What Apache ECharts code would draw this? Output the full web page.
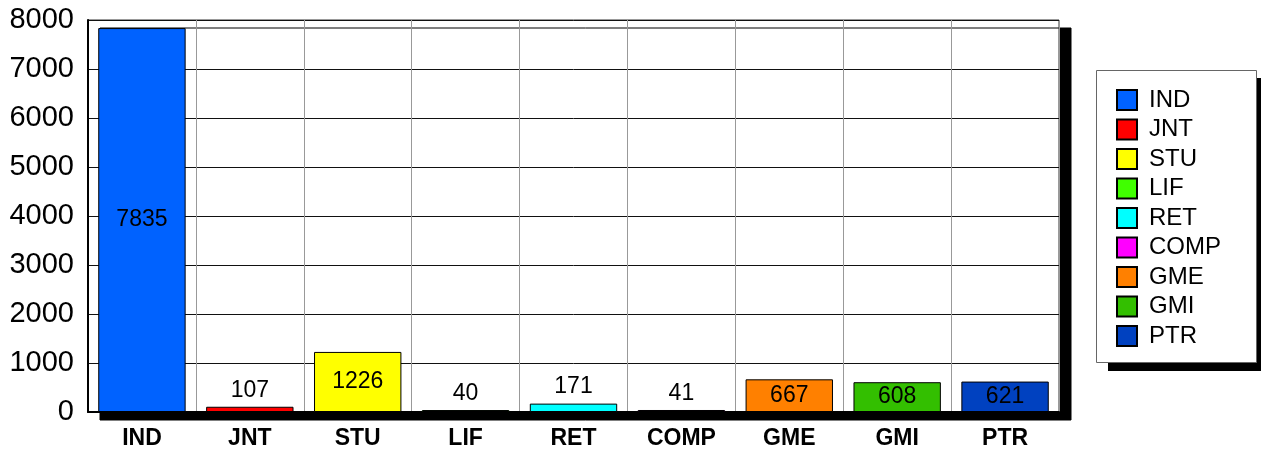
<!DOCTYPE html>
<html>
<head>
<meta charset="utf-8">
<title>Bar chart</title>
<script src="https://cdn.jsdelivr.net/npm/echarts@6/dist/echarts.min.js"></script>
<style>
  html, body { margin: 0; padding: 0; background: #fff; }
  #main { width: 1261px; height: 452px; }
</style>
</head>
<body>
<div id="main"></div>
<script>
    // categories and values
    var categories = ['IND', 'JNT', 'STU', 'LIF', 'RET', 'COMP', 'GME', 'GMI', 'PTR'];
    var values = [7835, 107, 1226, 40, 171, 41, 667, 608, 621];
    var colors = ['#0062FF', '#FF0000', '#FFFF00', '#40FF00', '#00FFFF', '#FF00FF', '#FF8000', '#33BF00', '#0041C0'];
    var yTicks = [0, 1000, 2000, 3000, 4000, 5000, 6000, 7000, 8000];

    var font = 'Liberation Sans, Arial, sans-serif';
    var myChart = echarts.init(document.getElementById('main'));

    // one series per category so every bar gets its own legend entry
    var series = categories.map(function (name, i) {
        var data = categories.map(function (c, j) { return j == i ? values[i] : '-'; });
        return {
            name: name,
            type: 'bar',
            stack: 'all',
            barWidth: '81%',
            data: data,
            itemStyle: { color: colors[i], borderColor: '#000', borderWidth: 1 },
            label: {
                show: true,
                position: values[i] > 500 ? 'inside' : 'top',
                distance: 5,
                color: '#000',
                fontFamily: font,
                fontSize: 23
            }
        };
    });

    var option = {
        animation: false,
        // legend box and its drop shadow
        graphic: [{
            type: 'rect',
            z: 1,
            shape: { x: 1108, y: 78, width: 161, height: 293 },
            style: { fill: '#000' }
        }, {
            type: 'rect',
            z: 2,
            shape: { x: 1096.5, y: 70.5, width: 160, height: 292 },
            style: { fill: '#fff', stroke: '#666', lineWidth: 1 }
        }],
        grid: {
            show: true,
            left: 88,
            top: 20,
            right: 202,
            bottom: 40,
            backgroundColor: '#fff',
            borderColor: '#333',
            borderWidth: 1,
            shadowColor: '#000',
            shadowBlur: 0,
            shadowOffsetX: 12,
            shadowOffsetY: 8
        },
        legend: {
            orient: 'vertical',
            left: 1096,
            top: 70,
            padding: [18, 20, 20, 20],
            itemWidth: 20,
            itemHeight: 20,
            itemGap: 5.5,
            z: 5,
            icon: 'rect',
            textStyle: { color: '#000', fontFamily: font, fontSize: 24, padding: [0, 0, 0, 7] },
            data: categories
        },
        xAxis: {
            type: 'category',
            data: categories,
            axisLine: { lineStyle: { color: '#000', width: 2 } },
            axisTick: { show: false },
            axisLabel: { color: '#000', fontFamily: font, fontSize: 23, fontWeight: 'bold', margin: 15 },
            splitLine: { show: true, lineStyle: { color: '#999', width: 1 } }
        },
        yAxis: {
            type: 'value',
            min: yTicks[0],
            max: yTicks[yTicks.length - 1],
            interval: yTicks[1] - yTicks[0],
            axisLine: { show: true, lineStyle: { color: '#000', width: 2 } },
            axisTick: { show: false },
            axisLabel: { color: '#000', fontFamily: font, fontSize: 29, margin: 14, formatter: function (v) { return String(v); } },
            splitLine: { show: true, lineStyle: { color: '#111', width: 1 } }
        },
        series: series
    };

    myChart.setOption(option);
</script>
</body>
</html>
